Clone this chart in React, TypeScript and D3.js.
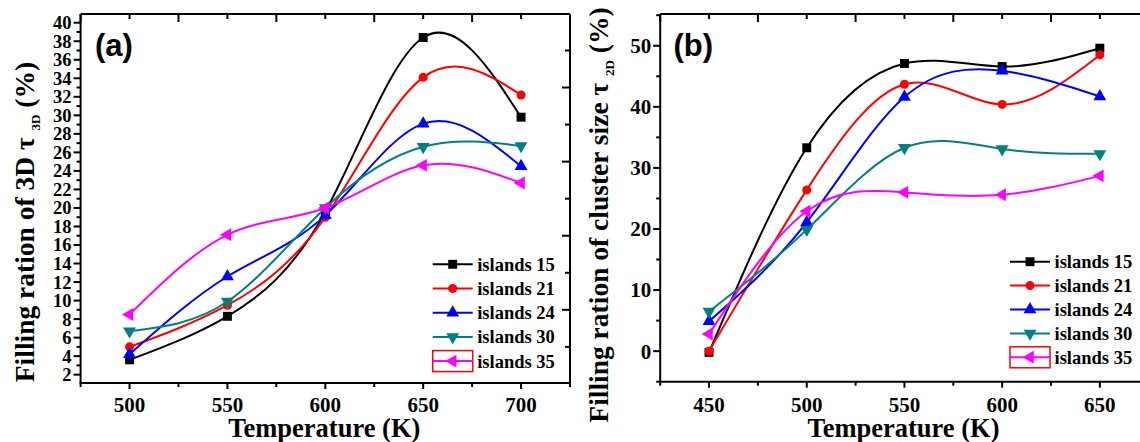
import React from 'react';
import * as d3 from 'd3';

const seriesNames = ['islands 15', 'islands 21', 'islands 24', 'islands 30', 'islands 35'];
const seriesColors = ['#000000', '#ff0000', '#0000ff', '#008080', '#ff00ff'];
const seriesMarkers = ['square', 'circle', 'up', 'down', 'left'];

// Panel (a): filling ratio of 3D tau_3D (%)
const tempA = [500, 550, 600, 650, 700];
const a15 = [3.6, 8.3, 19.6, 38.4, 29.8];
const a21 = [5.0, 9.5, 19.0, 34.1, 32.2];
const a24 = [4.2, 12.6, 19.2, 29.1, 24.5];
const a30 = [6.7, 9.9, 20.0, 26.6, 26.7];
const a35 = [8.5, 17.1, 20.0, 24.6, 22.7];

// Panel (b): filling ratio of cluster size tau_2D (%)
const tempB = [450, 500, 550, 600, 650];
const b15 = [-0.2, 33.3, 47.1, 46.6, 49.6];
const b21 = [0.0, 26.4, 43.7, 40.4, 48.5];
const b24 = [4.9, 21.1, 41.6, 45.9, 41.7];
const b30 = [6.5, 19.9, 33.3, 33.1, 32.3];
const b35 = [2.8, 22.9, 26.0, 25.6, 28.7];

const xTicksA = [500, 550, 600, 650, 700];
const xMinorA = [475, 525, 575, 625, 675, 725];
const yTicksA = [2, 4, 6, 8, 10, 12, 14, 16, 18, 20, 22, 24, 26, 28, 30, 32, 34, 36, 38, 40];
const yMinorA = [3, 5, 7, 9, 11, 13, 15, 17, 19, 21, 23, 25, 27, 29, 31, 33, 35, 37, 39];
const yRightShortA = [5, 13, 21, 29, 37];
const yRightLongA = [9, 17, 25, 33];

const xTicksB = [450, 500, 550, 600, 650];
const xMinorB = [425, 475, 525, 575, 625, 675];
const yTicksB = [0, 10, 20, 30, 40, 50];
const yMinorB = [-5, 5, 15, 25, 35, 45, 55];

const SERIF = "'Liberation Serif', 'Times New Roman', serif";
const SANS = "'Liberation Sans', Arial, sans-serif";

function markerPath(kind: string) {
  if (kind === 'square') return d3.symbol(d3.symbolSquare, 80)() as string;
  if (kind === 'circle') return d3.symbol(d3.symbolCircle, 64)() as string;
  return d3.symbol(d3.symbolTriangle, 72)() as string;
}
function markerRot(kind: string) {
  if (kind === 'down') return 180;
  if (kind === 'left') return -90;
  return 0;
}

type PanelProps = {
  left: number; right: number; top: number; bottom: number;
  xDomain: [number, number]; yDomain: [number, number];
  xTicks: number[]; xMinor: number[]; yTicks: number[]; yMinor: number[];
  yTickFont: number;
  rightShort?: number[]; rightLong?: number[];
  temps: number[]; values: number[][];
  tag: string; tagX: number;
  yLabelMain: string; yLabelSub: string; yLabelX: number; yLabelY: number;
  legendX: number; legendY: number; legendStep: number;
};

function Panel(p: PanelProps) {
  const x = d3.scaleLinear().domain(p.xDomain).range([p.left, p.right]);
  const y = d3.scaleLinear().domain(p.yDomain).range([p.bottom, p.top]);
  const line = d3.line<[number, number]>().x(d => x(d[0])).y(d => y(d[1])).curve(d3.curveNatural);
  return (
    <g>
      {/* series */}
      {p.values.map((vals, i) => {
        const pts = p.temps.map((t, j) => [t, vals[j]] as [number, number]);
        return (
          <g key={i}>
            <path d={line(pts) as string} fill="none" stroke={seriesColors[i]} strokeWidth={2} />
            {pts.map((pt, j) => (
              <path key={j} d={markerPath(seriesMarkers[i])} fill={seriesColors[i]}
                transform={`translate(${x(pt[0])},${y(pt[1])}) rotate(${markerRot(seriesMarkers[i])})`} />
            ))}
          </g>
        );
      })}
      {/* frame */}
      <line x1={p.left} x2={p.left} y1={p.top} y2={p.bottom} stroke="#000" strokeWidth={2} />
      <line x1={p.right} x2={p.right} y1={p.top} y2={p.bottom} stroke="#000" strokeWidth={2} />
      <line x1={p.left} x2={p.right} y1={p.top} y2={p.top} stroke="#000" strokeWidth={2} />
      <line x1={p.left - 1} x2={p.right + 1} y1={p.bottom} y2={p.bottom} stroke="#000" strokeWidth={2} />
      {/* bottom ticks */}
      {p.xTicks.map(t => (
        <g key={'bx' + t}>
          <line x1={x(t)} x2={x(t)} y1={p.bottom} y2={p.bottom + 6} stroke="#000" strokeWidth={2} />
          <line x1={x(t)} x2={x(t)} y1={p.top} y2={p.top + 5} stroke="#000" strokeWidth={2} />
          <text x={x(t)} y={412} textAnchor="middle" fontFamily={SERIF} fontWeight="bold" fontSize={21}>{t}</text>
        </g>
      ))}
      {p.xMinor.map(t => (
        <g key={'mx' + t}>
          <line x1={x(t)} x2={x(t)} y1={p.bottom} y2={p.bottom + 4} stroke="#000" strokeWidth={2} />
          <line x1={x(t)} x2={x(t)} y1={p.top} y2={p.top + 8} stroke="#000" strokeWidth={2} />
        </g>
      ))}
      {/* left ticks */}
      {p.yTicks.map(t => (
        <g key={'ly' + t}>
          <line x1={p.left - 7} x2={p.left} y1={y(t)} y2={y(t)} stroke="#000" strokeWidth={2} />
          <text x={p.left - 9} y={y(t)} dy="0.35em" textAnchor="end" fontFamily={SERIF} fontWeight="bold" fontSize={p.yTickFont}>{t}</text>
        </g>
      ))}
      {p.yMinor.map(t => (
        <line key={'my' + t} x1={p.left - 4} x2={p.left} y1={y(t)} y2={y(t)} stroke="#000" strokeWidth={2} />
      ))}
      {(p.rightShort || []).map(t => (
        <line key={'rs' + t} x1={p.right - 5} x2={p.right} y1={y(t)} y2={y(t)} stroke="#000" strokeWidth={2} />
      ))}
      {(p.rightLong || []).map(t => (
        <line key={'rl' + t} x1={p.right - 8} x2={p.right} y1={y(t)} y2={y(t)} stroke="#000" strokeWidth={2} />
      ))}
      {/* tag */}
      <text x={p.tagX} y={56} fontFamily={SANS} fontWeight="bold" fontSize={31}>{p.tag}</text>
      {/* x label */}
      <text x={x((p.xTicks[0] + p.xTicks[p.xTicks.length - 1]) / 2) - 1} y={437} textAnchor="middle" fontFamily={SERIF} fontWeight="bold" fontSize={26.5}>Temperature (K)</text>
      {/* y label */}
      <text transform={`translate(${p.yLabelX},${p.yLabelY}) rotate(-90)`} textAnchor="middle"
        fontFamily={SERIF} fontWeight="bold" fontSize={27.5}>
        {p.yLabelMain}
        <tspan dy={6} fontSize={13}>{p.yLabelSub}</tspan>
        <tspan dy={-6}> (%)</tspan>
      </text>
      {/* legend */}
      {seriesNames.map((n, i) => {
        const ly = p.legendY + i * p.legendStep;
        return (
          <g key={'lg' + i}>
            {i === 4 && (
              <rect x={p.legendX} y={ly - 10.5} width={40} height={21} fill="none" stroke="#ff0000" strokeWidth={1.5} />
            )}
            <line x1={p.legendX} x2={p.legendX + 40} y1={ly} y2={ly} stroke={seriesColors[i]} strokeWidth={2} />
            <path d={markerPath(seriesMarkers[i])} fill={seriesColors[i]}
              transform={`translate(${p.legendX + 20},${ly}) rotate(${markerRot(seriesMarkers[i])})`} />
            <text x={p.legendX + 44.5} y={ly} dy="0.35em" fontFamily={SERIF} fontWeight="bold" fontSize={18.5}>{n}</text>
          </g>
        );
      })}
    </g>
  );
}

export default function App() {
  return (
    <div style={{ position: 'absolute', left: 0, top: 0, width: 1140, height: 442, background: '#fff', overflow: 'hidden' }}>
      <svg width={1140} height={442} viewBox="0 0 1140 442" style={{ display: 'block' }}>
        <rect x={0} y={0} width={1140} height={442} fill="#fff" />
        <Panel left={80.6} right={570} top={14} bottom={383}
          xDomain={[475, 725]} yDomain={[1.1, 40.94]}
          xTicks={xTicksA} xMinor={xMinorA} yTicks={yTicksA} yMinor={yMinorA} yTickFont={18.5}
          rightShort={yRightShortA} rightLong={yRightLongA}
          temps={tempA} values={[a15, a21, a24, a30, a35]}
          tag="(a)" tagX={95}
          yLabelMain="Filling ration of 3D τ " yLabelSub="3D" yLabelX={34} yLabelY={222}
          legendX={432.7} legendY={264.3} legendStep={24.2} />
        <Panel left={660.2} right={1148.7} top={14} bottom={381.7}
          xDomain={[425, 675]} yDomain={[-5, 55.2]}
          xTicks={xTicksB} xMinor={xMinorB} yTicks={yTicksB} yMinor={yMinorB} yTickFont={21}
          temps={tempB} values={[b15, b21, b24, b30, b35]}
          tag="(b)" tagX={673.5}
          yLabelMain="Filling ration of cluster size τ " yLabelSub="2D" yLabelX={608} yLabelY={215}
          legendX={1010} legendY={261.7} legendStep={23.9} />
      </svg>
    </div>
  );
}
